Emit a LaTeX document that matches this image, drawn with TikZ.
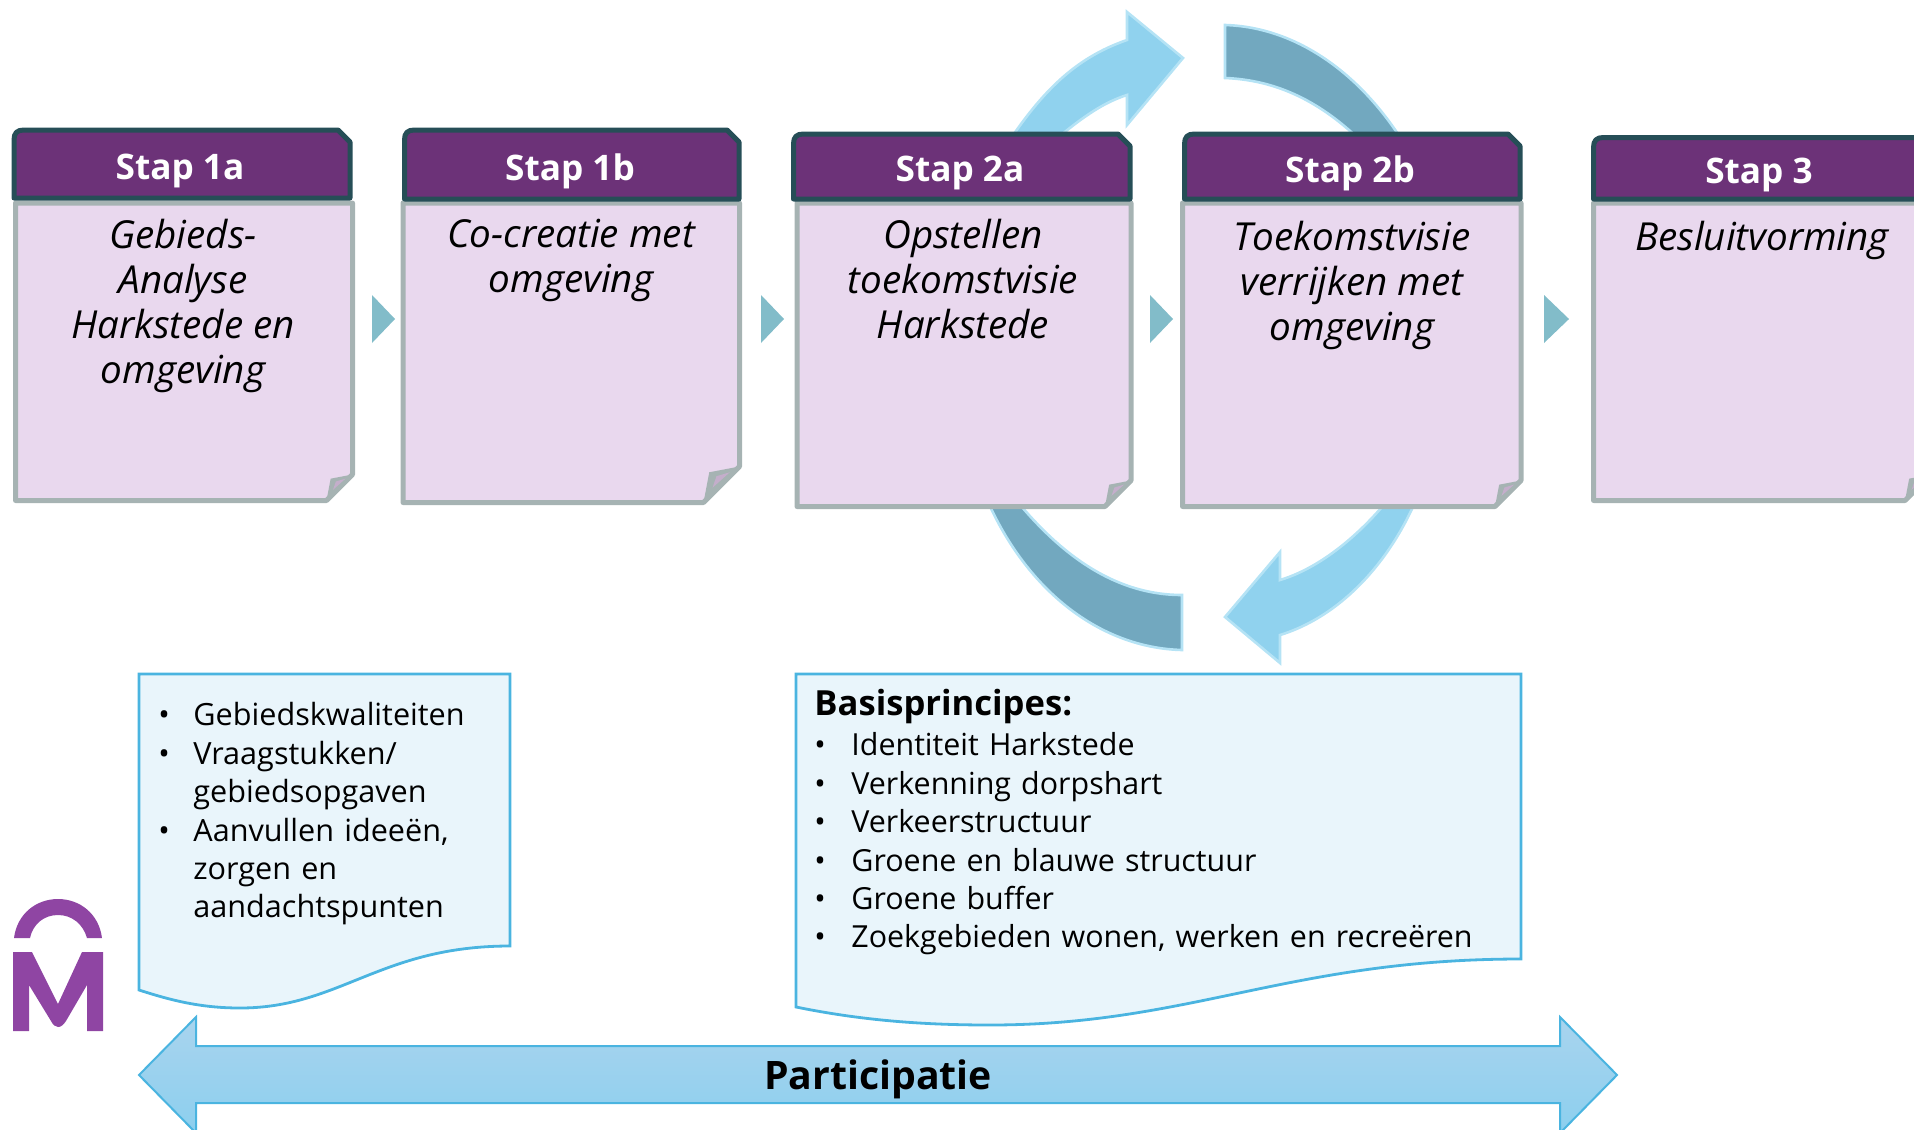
\documentclass[tikz,border=0pt]{standalone}
\usepackage{fontspec}
\setmainfont{Open Sans}
\usetikzlibrary{shadings}
\definecolor{hdrfill}{HTML}{6C3278}
\definecolor{hdrline}{HTML}{264E57}
\definecolor{bodyfill}{HTML}{E9D8EE}
\definecolor{bodyline}{HTML}{A6B3B3}
\definecolor{curlfill}{HTML}{C4AECB}
\definecolor{chev}{HTML}{82BCC9}
\definecolor{arrowblue}{HTML}{90D2EE}
\definecolor{arrowteal}{HTML}{72A8BF}
\definecolor{arrowedge}{HTML}{B5E3F5}
\definecolor{noteline}{HTML}{4AB4E0}
\definecolor{notefill}{HTML}{E9F5FB}
\definecolor{logo}{HTML}{8F45A3}
\definecolor{bargtop}{HTML}{A9D4EE}
\definecolor{bargbot}{HTML}{8CCFEE}
\tikzset{
  hdrbox/.style={draw=hdrline,fill=hdrfill,line width=2.5pt,line join=round},
  bodybox/.style={draw=bodyline,fill=bodyfill,line width=2.5pt,line join=round},
  curl/.style={fill=bodyline,draw=none},
  curlin/.style={fill=curlfill,draw=none},
  hdrtext/.style={text=white,font=\fontsize{17.6}{21}\selectfont\bfseries,anchor=center,inner sep=0pt},
  bodytext/.style={font=\fontsize{19.3}{22.5}\selectfont\itshape,align=center,anchor=north,inner sep=0pt},
  chevron/.style={fill=chev,draw=none},
  cycblue/.style={fill=arrowblue,draw=arrowedge,line width=1.3pt,line join=miter},
  cycteal/.style={fill=arrowteal,draw=arrowedge,line width=1.3pt,line join=miter},
  notebox/.style={fill=notefill,draw=noteline,line width=1.4pt,line join=miter},
  notetext/.style={font=\fontsize{15.3}{19.2}\selectfont,anchor=north west,inner sep=0pt,align=left},
  notetextb/.style={font=\fontsize{15.2}{19.2}\selectfont,anchor=north west,inner sep=0pt,align=left},
  bararrow/.style={draw=noteline,line width=1pt,top color=bargtop,bottom color=bargbot},
}
\newenvironment{notelist}[1]{\begin{list}{\textbullet}{\setlength{\leftmargin}{#1}\setlength{\labelwidth}{#1}\setlength{\labelsep}{0pt}\setlength{\itemsep}{0pt}\setlength{\topsep}{0pt}\setlength{\parsep}{0pt}\setlength{\partopsep}{0pt}\setlength{\itemindent}{0pt}\renewcommand{\makelabel}[1]{##1\hfill}}}{\end{list}}
% #1 fold size, #2-#5 header l r t b, #6-#9 body l r t b
\newcommand{\procbox}[9]{%
  \draw[bodybox] (#6,#8) -- (#7,#8) -- (#7,{#9-#1}) -- ({#7-#1},#9) -- (#6,#9) -- cycle;
  \fill[curl] ({#7-#1},{#9}) -- ({#7-0.84*#1},{#9-0.84*#1}) -- (#7,{#9-#1}) -- cycle;
  \fill[curlin] ({#7-0.75*#1},{#9-0.41*#1}) -- ({#7-0.64*#1},{#9-0.73*#1}) -- ({#7-0.27*#1},{#9-0.84*#1}) -- cycle;
  \draw[hdrbox] (#2,#5) -- (#2,{#4+10}) .. controls (#2,{#4+3}) and ({#2+3},#4) .. ({#2+10},#4) -- ({#3-12},#4) -- (#3,{#4+12}) -- (#3,#5) -- cycle;
}
\begin{document}
\begin{tikzpicture}[x=0.5pt,y=-0.5pt]
\useasboundingbox (0,0) rectangle (1914,1129);
\clip (0,0) rectangle (1914,1129);
% cycle arrows
\draw[cycblue] (1183,58) -- (1127,12) -- (1127,40) .. controls (1075,58) and (1040,92) .. (1000,155) -- (1040,155) -- (1055,140) .. controls (1085,115) and (1105,102) .. (1127,95) -- (1127,125) -- cycle;
\draw[cycteal] (1225,25) .. controls (1295,27) and (1360,72) .. (1405,145) -- (1365,145) .. controls (1320,100) and (1275,80) .. (1225,78) -- cycle;
\draw[cycteal] (1182,650) .. controls (1100,648) and (1025,590) .. (985,495) -- (1012,495) .. controls (1060,555) and (1115,595) .. (1182,595) -- cycle;
\draw[cycblue] (1225,617) -- (1280,663) -- (1280,635) .. controls (1345,615) and (1395,555) .. (1420,490) -- (1392,495) .. controls (1360,535) and (1320,568) .. (1280,580) -- (1280,552) -- cycle;
% chevrons
\fill[chevron] (372,295) -- (395,319) -- (372,343) -- cycle;
\fill[chevron] (761,295) -- (784,319) -- (761,343) -- cycle;
\fill[chevron] (1150,295) -- (1173,319) -- (1150,343) -- cycle;
\fill[chevron] (1544,295) -- (1569,319) -- (1544,343) -- cycle;
% step boxes
\procbox{26}{14}{350}{130}{198}{15.5}{352.5}{203}{500.5}
\procbox{36}{404.5}{739}{130}{199}{403}{739.5}{203}{502.5}
\procbox{26}{793.5}{1130}{134}{199}{797}{1131}{203}{506.5}
\procbox{26}{1184.5}{1520}{134}{199}{1182.5}{1521}{203}{506.5}
\procbox{26}{1593.5}{1935}{137.5}{199}{1593.5}{1931}{203}{500.5}
\node[hdrtext] (h1a) at (180,171) {Stap 1a};
\node[hdrtext] (h1b) at (570,171) {Stap 1b};
\node[hdrtext] (h2a) at (960,173) {Stap 2a};
\node[hdrtext] (h2b) at (1350,173) {Stap 2b};
\node[hdrtext] (h3) at (1759,175) {Stap 3};
\node[bodytext] (t1a) at (183,219) {Gebieds-\\Analyse\\Harkstede en\\omgeving};
\node[bodytext] (t1b) at (571,219) {Co-creatie met\\omgeving};
\node[bodytext] (t2a) at (963,219) {Opstellen\\toekomstvisie\\Harkstede};
\node[bodytext] (t2b) at (1352,221) {Toekomstvisie\\verrijken met\\omgeving};
\node[bodytext] (t3) at (1762,221) {Besluitvorming};
% notes
\draw[notebox] (139,674) -- (510,674) -- (510,946) .. controls (380,946) and (340,1008) .. (240,1008) .. controls (200,1008) and (170,1000) .. (139,990) -- cycle;
\draw[notebox] (796,674) -- (1521,674) -- (1521,959) .. controls (1290,959) and (1190,1025) .. (990,1025) .. controls (920,1025) and (860,1020) .. (796,1007) -- cycle;
\node[notetext,text width=170pt] (n1) at (158,687) {\begin{notelist}{17.5pt}
\item Gebiedskwaliteiten
\item Vraagstukken/\\gebiedsopgaven
\item Aanvullen ideeën,\\zorgen en\\aandachtspunten
\end{notelist}};
\node[notetext,font=\fontsize{17.3}{20}\selectfont\bfseries] (n2h) at (814,689) {Basisprincipes:};
\node[notetextb,text width=350pt] (n2) at (814,717) {\begin{notelist}{18.5pt}
\item Identiteit Harkstede
\item Verkenning dorpshart
\item Verkeerstructuur
\item Groene en blauwe structuur
\item Groene buffer
\item Zoekgebieden wonen, werken en recreëren
\end{notelist}};
% participation bar
\shade[bararrow] (139,1075) -- (196,1017) -- (196,1046) -- (1560,1046) -- (1560,1017) -- (1617,1075) -- (1560,1133) -- (1560,1103) -- (196,1103) -- (196,1133) -- cycle;
\node[font=\fontsize{19.6}{24}\selectfont\bfseries,inner sep=0pt] (part) at (878,1079) {Participatie};
% logo
\fill[logo] (14,938) .. controls (17,914) and (36,899) .. (58,899) .. controls (80,899) and (99,914) .. (102,938) -- (87,938) .. controls (83,924) and (72,915) .. (58,915) .. controls (44,915) and (33,924) .. (30,938) -- cycle;
\fill[logo] (13,952) -- (32,952) -- (58,1004) -- (82,952) -- (103,952) -- (103,1031) -- (87,1031) -- (87,985) -- (66,1021) .. controls (61,1029) and (55,1029) .. (51,1021) -- (29,985) -- (29,1031) -- (13,1031) -- cycle;
\end{tikzpicture}
\end{document}
